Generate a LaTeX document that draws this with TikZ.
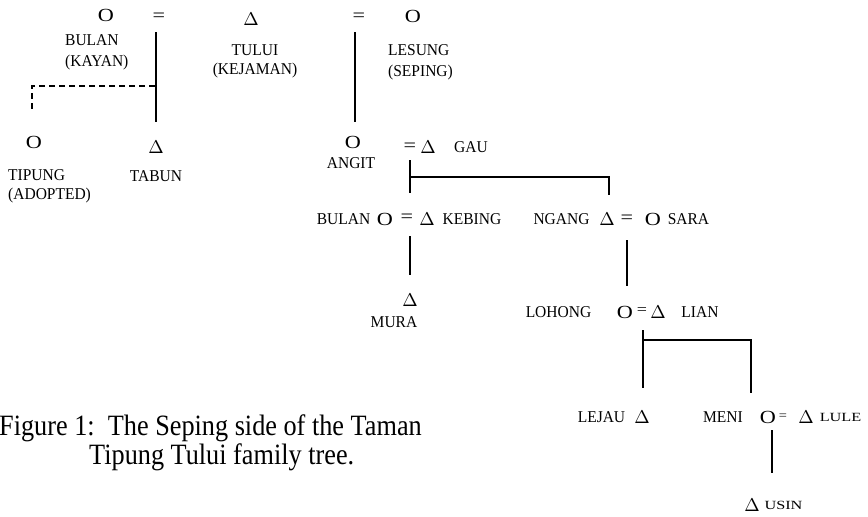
\documentclass[tikz,border=0pt]{standalone}
\usepackage{graphicx}
\usepackage{fontspec}
\setmainfont{Liberation Serif}
\newfontfamily\capfont[FakeStretch=0.89]{Liberation Serif}
\newfontfamily\lblfont[FakeStretch=0.94]{Liberation Serif}
\newfontfamily\symfont[FakeStretch=1.2]{Liberation Serif}
\newfontfamily\scfont[FakeStretch=1.3]{Liberation Serif}
\newcommand{\maleglyph}{\scalebox{1.85}{$\Delta$}}

\begin{document}
\begin{tikzpicture}[x=1pt,y=-1pt,
    sym/.style={font=\symfont\fontsize{18.5}{20}\selectfont, inner sep=0pt},
    male/.style={inner sep=0pt},
    lbl/.style={font=\lblfont\fontsize{16.5}{21}\selectfont, inner sep=0pt},
    smallname/.style={font=\scfont\fontsize{12.5}{14}\selectfont, inner sep=0pt},
    kin/.style={line width=1.1pt},
    adopt/.style={line width=1.1pt, dash pattern=on 6pt off 4pt}]
  \useasboundingbox (0,0) rectangle (868,517);

  % first generation
  \node[sym] (bulanK) at (106,15.7) {O};
  \node[sym] (m1) at (159,17) {=};
  \node[male] (tului) at (251,19.5) {\maleglyph};
  \node[sym] (m2) at (359,17) {=};
  \node[sym] (lesung) at (413,16) {O};
  \node[lbl, anchor=north west, align=left] (bulanKname) at (65,34.5) {BULAN\\(KAYAN)};
  \node[lbl, anchor=north, align=center] (tuluiname) at (255,44.5) {TULUI\\[-2pt](KEJAMAN)};
  \node[lbl, anchor=north west, align=left] (lesungname) at (388,44.5) {LESUNG\\(SEPING)};

  % second generation
  \node[sym] (tipung) at (34,142.5) {O};
  \node[male] (tabun) at (156,147) {\maleglyph};
  \node[sym] (angit) at (353,142) {O};
  \node[sym] (m3) at (410,147) {=};
  \node[male] (gau) at (428,147) {\maleglyph};
  \node[lbl, anchor=north west, align=left] (tipungname) at (8,169.5) {TIPUNG\\[-2pt](ADOPTED)};
  \node[lbl] (tabunname) at (156,176) {TABUN};
  \node[lbl] (angitname) at (351,163) {ANGIT};
  \node[lbl] (gauname) at (471,147) {GAU};

  % third generation
  \node[lbl] (bulanname) at (343.5,219) {BULAN};
  \node[sym] (bulan) at (385,219) {O};
  \node[sym] (m4) at (407,218) {=};
  \node[male] (kebing) at (427,219) {\maleglyph};
  \node[lbl] (kebingname) at (472,219) {KEBING};
  \node[lbl] (ngangname) at (561.5,219) {NGANG};
  \node[male] (ngang) at (607,219) {\maleglyph};
  \node[sym] (m5) at (627,219) {=};
  \node[sym] (sara) at (653,219) {O};
  \node[lbl] (saraname) at (688.5,219) {SARA};

  % fourth generation
  \node[male] (mura) at (410,300) {\maleglyph};
  \node[lbl] (muraname) at (394,322) {MURA};
  \node[lbl] (lohongname) at (558.5,312) {LOHONG};
  \node[sym] (lohong) at (625,312) {O};
  \node[sym, font=\symfont\fontsize{15}{16}\selectfont] (m6) at (642,311) {=};
  \node[male] (lian) at (658,312) {\maleglyph};
  \node[lbl] (lianname) at (700,312) {LIAN};

  % fifth generation
  \node[lbl] (lejauname) at (601.5,417) {LEJAU};
  \node[male] (lejau) at (642,417) {\maleglyph};
  \node[lbl] (meniname) at (723,417) {MENI};
  \node[sym] (meni) at (768,417) {O};
  \node[sym, font=\symfont\fontsize{12}{13}\selectfont] (m7) at (783,417) {=};
  \node[male] (lule) at (806,417) {\maleglyph};
  \node[smallname] (lulename) at (840.5,417) {LULE};
  \node[male] (usin) at (752,505) {\maleglyph};
  \node[smallname] (usinname) at (783.5,505) {USIN};

  % line ends
  \coordinate (p1a) at (156,32);
  \coordinate (p1b) at (156,122);
  \coordinate (p1c) at (155,86);
  \coordinate (ad1) at (32,86);
  \coordinate (ad2) at (32,111);
  \coordinate (p2a) at (355,32);
  \coordinate (p2b) at (355,122);
  \coordinate (s1a) at (410,160);
  \coordinate (s1b) at (410,193);
  \coordinate (s1c) at (410,177);
  \coordinate (s1d) at (609,177);
  \coordinate (s1e) at (609,195);
  \coordinate (p3a) at (410,236);
  \coordinate (p3b) at (410,275);
  \coordinate (p4a) at (627,240);
  \coordinate (p4b) at (627,286);
  \coordinate (s2a) at (643,330);
  \coordinate (s2b) at (643,388);
  \coordinate (s2c) at (643,340);
  \coordinate (s2d) at (751,340);
  \coordinate (s2e) at (751,393);
  \coordinate (p5a) at (772,430);
  \coordinate (p5b) at (772,473);

  \draw[kin] (p1a) -- (p1b);
  \draw[adopt] (p1c) -- (ad1) -- (ad2);
  \draw[kin] (p2a) -- (p2b);
  \draw[kin] (s1a) -- (s1b);
  \draw[kin] (s1c) -- (s1d) -- (s1e);
  \draw[kin] (p3a) -- (p3b);
  \draw[kin] (p4a) -- (p4b);
  \draw[kin] (s2a) -- (s2b);
  \draw[kin] (s2c) -- (s2d) -- (s2e);
  \draw[kin] (p5a) -- (p5b);

  % caption
  \node[font=\capfont\fontsize{29.5}{32}\selectfont, inner sep=0pt, anchor=base west] (cap1) at (-1,435) {Figure 1:\ \ The Seping side of the Taman};
  \node[font=\capfont\fontsize{29.5}{32}\selectfont, inner sep=0pt, anchor=base west] (cap2) at (89,464) {Tipung Tului family tree.};
\end{tikzpicture}
\end{document}
